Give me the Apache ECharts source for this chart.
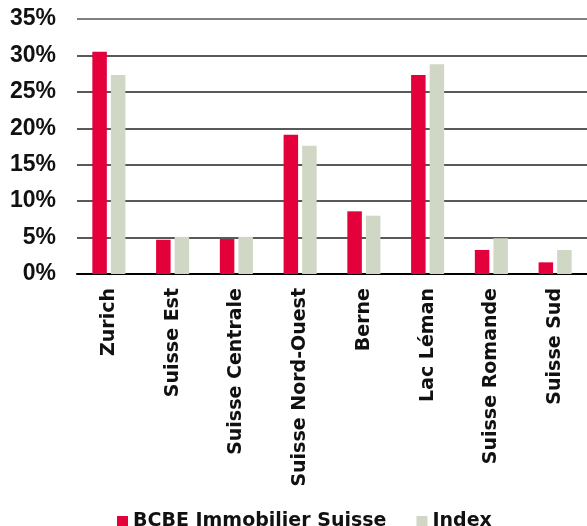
<!DOCTYPE html>
<html><head><meta charset="utf-8">
<script src="https://cdn.jsdelivr.net/npm/echarts@6/dist/echarts.min.js"></script>
<style>html,body{margin:0;padding:0;background:#fff}#c{width:587px;height:526px}</style>
</head><body><div id="c"></div>
<script>
const categories = ['Zurich','Suisse Est','Suisse Centrale','Suisse Nord-Ouest','Berne','Lac Léman','Suisse Romande','Suisse Sud'];
const bcbe = [30.5, 4.7, 4.8, 19.1, 8.6, 27.3, 3.3, 1.6];
const indexVals = [27.3, 5.1, 5.1, 17.6, 8.0, 28.8, 4.9, 3.3];
const yTicks = [0,5,10,15,20,25,30,35];

const chart = echarts.init(document.getElementById('c'));
const font = '"DejaVu Sans", sans-serif';
chart.setOption({
  animation: false,
  grid: {left: 77, top: 19, width: 515, height: 255, containLabel: false},
  legend: {
    top: 507, left: 112,
    itemWidth: 11, itemHeight: 11, itemGap: 30,
    icon: 'rect',
    textStyle: {fontFamily: font, fontWeight: 'bold', fontSize: 19, color: '#111'},
    data: ['BCBE Immobilier Suisse','Index']
  },
  xAxis: {
    type: 'category', data: categories,
    axisLine: {show: true, lineStyle: {color: '#000', width: 2}},
    axisTick: {show: false},
    axisLabel: {rotate: 90, fontFamily: font, fontWeight: 'bold', fontSize: 19, color: '#111', margin: 14}
  },
  yAxis: {
    type: 'value', min: yTicks[0], max: yTicks[yTicks.length-1], interval: 5,
    axisLine: {show: false}, axisTick: {show: false},
    splitLine: {lineStyle: {color: ['#222','#222','#222','#222','#222','#222','#222','#555'], width: 1.5}},
    axisLabel: {formatter: '{value}%', fontFamily: '"Liberation Sans", Arial, sans-serif', fontWeight: 'bold', fontSize: 23, color: '#111', margin: 21}
  },
  series: [
    {name: 'BCBE Immobilier Suisse', type: 'bar', data: bcbe, barWidth: 14.5, barGap: '28%', itemStyle: {color: '#e4003a'}},
    {name: 'Index', type: 'bar', data: indexVals, barWidth: 14.5, itemStyle: {color: '#d0d7c4'}}
  ]
});
</script></body></html>
